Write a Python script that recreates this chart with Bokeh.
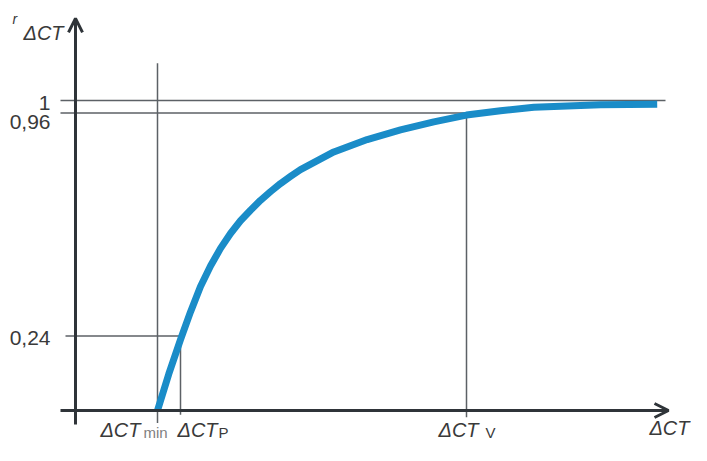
from bokeh.plotting import figure
from bokeh.models import Arrow, OpenHead, Label
from bokeh.embed import file_html
from bokeh.resources import INLINE

# ---- data ----
dct = [8.2, 9.33, 10.5, 11.5, 12.5, 13.5, 14.5, 15.5, 16.5, 17.5, 18.5, 19.5, 20.5,
       21.5, 22.5, 25.83, 29.17, 32.5, 35.83, 39.1, 42.5, 45.83, 49.17, 52.5, 58.17]
r_dct = [0.0, 0.118, 0.229, 0.318, 0.400, 0.466, 0.523, 0.571, 0.612, 0.646, 0.678, 0.706, 0.732,
         0.755, 0.777, 0.834, 0.874, 0.905, 0.931, 0.953, 0.967, 0.978, 0.982, 0.986, 0.988]

dct_min = 8.2
dct_p = 10.5
dct_v = 39.1
x_marks = [dct_min, dct_p, dct_v]
x_subs = ["min", "P", "V"]
r_levels = [0.24, 0.96, 1.0]
r_labels = ["0,24", "0,96", "1"]

# ---- style ----
AXIS_C = "#2f3439"
GUIDE_C = "#5c6166"
TEXT_C = "#3a3a3a"
CURVE_C = "#1a8cc8"
FONT = "Liberation Sans"

x_lo, x_hi = -1.5, 59.3     # axis extents
y_lo, y_hi = -0.045, 1.265

p = figure(width=691, height=440, x_range=(-7.5, 61.6), y_range=(-0.0968, 1.3226),
           x_axis_location=None, y_axis_location=None, min_border=0,
           outline_line_color=None, toolbar_location=None, output_backend="svg")
p.xgrid.visible = False
p.ygrid.visible = False

# horizontal guides
p.segment(x0=[-1.0, x_lo, x_lo], y0=r_levels, x1=[dct_p, dct_v, 59.0], y1=r_levels,
          line_color=GUIDE_C, line_width=1.5)
# vertical guides
p.segment(x0=x_marks, y0=[-0.04, -0.014, -0.022],
          x1=x_marks, y1=[1.12, r_levels[0], r_levels[1]],
          line_color=GUIDE_C, line_width=1.5)

# axes with arrows
p.add_layout(Arrow(end=OpenHead(size=14, line_width=3, line_color=AXIS_C),
                   x_start=x_lo, y_start=0, x_end=x_hi, y_end=0,
                   line_width=3, line_color=AXIS_C))
p.add_layout(Arrow(end=OpenHead(size=14, line_width=3, line_color=AXIS_C),
                   x_start=0, y_start=y_lo, x_end=0, y_end=y_hi,
                   line_width=3, line_color=AXIS_C))

# curve
p.line(dct, r_dct, line_color=CURVE_C, line_width=7, line_join="round")


def lab(x, y, text, dx, dy, size, align="left", baseline="alphabetic",
        style="normal", color=TEXT_C):
    # dy: screen pixels downward
    p.add_layout(Label(x=x, y=y, text=text, x_offset=dx, y_offset=-dy,
                       text_font=FONT, text_font_size=size, text_font_style=style,
                       text_color=color, text_align=align, text_baseline=baseline))


# y tick labels
for lv, lt, dy in zip(r_levels, r_labels, [2, 9, 2]):
    lab(0, lv, lt, -25, dy, "21px", align="right", baseline="middle")

# x labels: ΔCT with subscripts
main_dx = [-17, -3, -28]
main_align = ["right", "left", "left"]
sub_dx = [-14, 38, 19]
sub_dy = [22, 22, 22]
sub_col = ["#808080", TEXT_C, TEXT_C]
for xm, sb, mdx, mal, sdx, sdy, sc in zip(x_marks, x_subs, main_dx, main_align,
                                          sub_dx, sub_dy, sub_col):
    lab(xm, 0, "ΔCT", mdx, 20, "20px", align=mal, style="italic")
    lab(xm, 0, sb, sdx, sdy, "15px", color=sc)

# x-axis title
lab(x_hi, 0, "ΔCT", 21, 18, "20px", align="right", style="italic")
# y-axis title  r_ΔCT
lab(0, y_hi, "r", -63, 1, "14px", style="italic")
lab(0, y_hi, "ΔCT", -52, 15, "20px", style="italic")

open("out.html", "w").write(file_html(p, INLINE))
